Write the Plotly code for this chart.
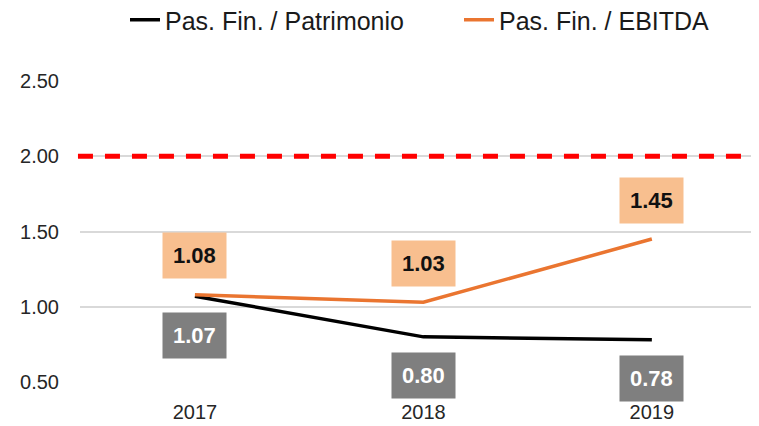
import plotly.graph_objects as go

years = ["2017", "2018", "2019"]
pasfin_patrimonio = [1.07, 0.80, 0.78]
pasfin_ebitda = [1.08, 1.03, 1.45]
limite = 2.0
y_ticks = [0.5, 1.0, 1.5, 2.0, 2.5]

FONT = "Liberation Sans, Arial, sans-serif"
ORANGE = "#EA7530"
ORANGE_LIGHT = "#F8BF8F"
GREY = "#7F7F7F"

W, H = 751, 418  # page body keeps an 8px margin

fig = go.Figure()
fig.add_trace(go.Scatter(
    x=years, y=pasfin_patrimonio, mode="lines", name="Pas. Fin. / Patrimonio",
    line=dict(color="#000000", width=3.5),
))
fig.add_trace(go.Scatter(
    x=years, y=pasfin_ebitda, mode="lines", name="Pas. Fin. / EBITDA",
    line=dict(color=ORANGE, width=3.5),
))

# threshold line
fig.add_shape(type="line", xref="paper", yref="y", x0=-0.003, x1=0.978,
              y0=limite, y1=limite,
              line=dict(color="#FF0000", width=5, dash="15px,12px"))

annotations = []
for i, v in enumerate(pasfin_ebitda):
    annotations.append(dict(
        x=i, y=v, xref="x", yref="y", text=f"<b>{v:.2f}</b>", showarrow=False,
        yshift=39, bgcolor=ORANGE_LIGHT, borderpad=10,
        font=dict(family=FONT, size=22, color="#111111"),
    ))
for i, v in enumerate(pasfin_patrimonio):
    annotations.append(dict(
        x=i, y=v, xref="x", yref="y", text=f"<b>{v:.2f}</b>", showarrow=False,
        yshift=-39, bgcolor=GREY, borderpad=10,
        font=dict(family=FONT, size=22, color="#FFFFFF"),
    ))

fig.update_layout(
    width=W, height=H,
    margin=dict(l=72, r=0, t=73, b=44),
    paper_bgcolor="white", plot_bgcolor="white",
    font=dict(family=FONT, color="#404040"),
    showlegend=True,
    legend=dict(
        orientation="h", xref="container", yref="container",
        x=117/W, xanchor="left", y=1 - 12/H, yanchor="middle",
        font=dict(family=FONT, size=25, color="#1a1a1a"),
        entrywidth=289, entrywidthmode="pixels",
        bgcolor="rgba(0,0,0,0)",
    ),
    annotations=annotations,
    xaxis=dict(
        type="category", range=[-0.503, 2.469],
        showgrid=False, zeroline=False, showline=False, ticks="",
        tickfont=dict(family=FONT, size=20, color="#262626"),
        ticklabelstandoff=16,
    ),
    yaxis=dict(
        range=[0.5, 2.5], tickvals=y_ticks, tickformat=".2f",
        showgrid=True, gridcolor="#D9D9D9", gridwidth=2,
        zeroline=False, showline=False, ticks="",
        tickfont=dict(family=FONT, size=20, color="#262626"),
        ticklabelstandoff=20,
    ),
)

fig.write_html("out.html")
